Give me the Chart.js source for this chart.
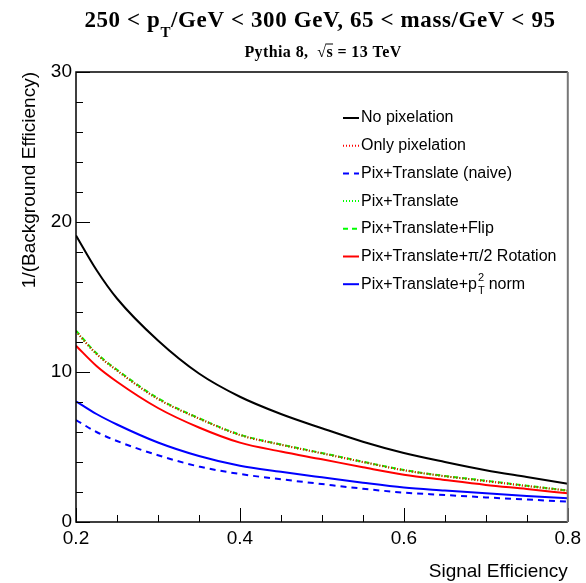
<!DOCTYPE html>
<html>
<head>
<meta charset="utf-8">
<script src="https://cdn.jsdelivr.net/npm/chart.js@4"></script>
<style>
  html, body { margin: 0; padding: 0; background: #fff; }
  #wrap { width: 586px; height: 583px; }
</style>
</head>
<body>
<div id="wrap"><canvas id="roc" width="586" height="583"></canvas></div>
<script>
// signal efficiency (x) and 1/(background efficiency)
const sigEff = [0.2, 0.225, 0.25, 0.3, 0.35, 0.4, 0.45, 0.5, 0.55, 0.6, 0.65, 0.7, 0.75, 0.8];
const noPix = [19.1, 16.8, 14.9, 12.1, 9.9, 8.35, 7.2, 6.25, 5.35, 4.6, 4.0, 3.45, 3.0, 2.55];
const onlyPix = [12.7, 11.2, 10.1, 8.2, 6.9, 5.8, 5.15, 4.58, 4.0, 3.45, 3.05, 2.73, 2.4, 2.09];
const pixTransNaive = [6.8, 6.0, 5.4, 4.45, 3.7, 3.2, 2.85, 2.53, 2.22, 1.96, 1.8, 1.64, 1.5, 1.36];
const pixTrans = [12.7, 11.2, 10.1, 8.2, 6.9, 5.8, 5.15, 4.58, 4.0, 3.45, 3.05, 2.73, 2.4, 2.09];
const pixTransFlip = [12.75, 11.25, 10.15, 8.25, 6.92, 5.82, 5.17, 4.6, 4.02, 3.47, 3.07, 2.75, 2.42, 2.1];
const pixTransRot = [11.75, 10.4, 9.35, 7.6, 6.3, 5.29, 4.7, 4.18, 3.65, 3.15, 2.8, 2.47, 2.2, 1.91];
const pixTransNorm = [8.05, 7.2, 6.5, 5.3, 4.4, 3.75, 3.35, 2.98, 2.62, 2.3, 2.1, 1.91, 1.74, 1.58];

const legendLabels = ["No pixelation", "Only pixelation", "Pix+Translate (naive)", "Pix+Translate",
    "Pix+Translate+Flip", "Pix+Translate+\u03c0/2 Rotation", "Pix+Translate+p"];

const sans = "'Liberation Sans', Arial, Helvetica, sans-serif";
const serif = "'Liberation Serif', 'Times New Roman', serif";

function pts(ys) {
    return ys.map((y, i) => ({x: sigEff[i], y: y}));
}

function series(label, ys, color, dash) {
    return {
        label: label,
        data: pts(ys),
        borderColor: color,
        backgroundColor: color,
        borderWidth: 2,
        borderDash: dash,
        pointRadius: 0,
        cubicInterpolationMode: 'monotone',
        fill: false,
    };
}

// ROOT style: inward ticks, full frame, custom legend and titles
const rootStyle = {
    id: 'rootStyle',
    afterDatasetsDraw(chart) {
        const ctx = chart.ctx;
        const a = chart.chartArea;
        const xs = chart.scales.x, ys = chart.scales.y;
        ctx.save();
        ctx.strokeStyle = '#000';
        ctx.lineWidth = 1;
        ctx.beginPath();
        xs.ticks.forEach(t => {
            const px = Math.round(xs.getPixelForValue(t.value)) + 0.5;
            const len = t.label !== '' ? 14 : 7;
            ctx.moveTo(px, a.bottom);
            ctx.lineTo(px, a.bottom - len);
        });
        ys.ticks.forEach(t => {
            const py = Math.round(ys.getPixelForValue(t.value)) + 0.5;
            const len = t.label !== '' ? 14 : 7;
            ctx.moveTo(a.left, py);
            ctx.lineTo(a.left + len, py);
        });
        ctx.stroke();
        ctx.lineWidth = 1.5;
        ctx.beginPath();
        ctx.moveTo(a.right, a.top);
        ctx.lineTo(a.left, a.top);
        ctx.lineTo(a.left, a.bottom);
        ctx.lineTo(a.right, a.bottom);
        ctx.stroke();
        ctx.strokeStyle = '#777';
        ctx.lineWidth = 2;
        ctx.beginPath();
        ctx.moveTo(a.right, a.top);
        ctx.lineTo(a.right, a.bottom);
        ctx.stroke();

        // legend
        const sets = chart.data.datasets;
        ctx.textBaseline = 'middle';
        ctx.textAlign = 'left';
        sets.forEach((ds, i) => {
            const y = 118 + i * 27.7;
            ctx.strokeStyle = ds.borderColor;
            ctx.lineWidth = 2;
            ctx.setLineDash(ds.borderDash || []);
            ctx.beginPath();
            ctx.moveTo(343, y);
            ctx.lineTo(359, y);
            ctx.stroke();
            ctx.setLineDash([]);
            ctx.fillStyle = '#000';
            ctx.font = '16px ' + sans;
            ctx.fillText(ds.label, 361, y);
            if (i === sets.length - 1) {
                let x = 361 + ctx.measureText(ds.label).width + 1;
                ctx.font = '11px ' + sans;
                ctx.fillText('2', x, y - 6);
                ctx.fillText('T', x, y + 7);
                x += ctx.measureText('T').width + 4;
                ctx.font = '16px ' + sans;
                ctx.fillText('norm', x, y);
            }
        });

        // titles
        ctx.fillStyle = '#000';
        ctx.strokeStyle = '#000';
        ctx.textBaseline = 'alphabetic';
        ctx.letterSpacing = '0.6px';
        const big = 'bold 23px ' + serif, sub = 'bold 15px ' + serif;
        const p1 = '250 < p', p2 = 'T', p3 = '/GeV < 300 GeV, 65 < mass/GeV < 95';
        ctx.font = big; const w1 = ctx.measureText(p1).width, w3 = ctx.measureText(p3).width;
        ctx.font = sub; const w2 = ctx.measureText(p2).width;
        let x = 320 - (w1 + w2 + w3) / 2;
        ctx.font = big; ctx.fillText(p1, x, 27); x += w1;
        ctx.font = sub; ctx.fillText(p2, x, 37); x += w2;
        ctx.font = big; ctx.fillText(p3, x, 27);

        const s1 = 'Pythia 8,  ', s2 = '\u221a', s3 = 's', s4 = ' = 13 TeV';
        ctx.letterSpacing = '0.4px';
        ctx.font = 'bold 16px ' + serif;
        const ws = [s1, s2, s3, s4].map(s => ctx.measureText(s).width);
        x = 323 - ws.reduce((p, c) => p + c, 0) / 2;
        const by = 57;
        ctx.fillText(s1, x, by); x += ws[0];
        ctx.fillText(s2, x, by); x += ws[1];
        ctx.fillText(s3, x, by);
        ctx.lineWidth = 1;
        ctx.beginPath();
        ctx.moveTo(x - 1, by - 13);
        ctx.lineTo(x + ws[2], by - 13);
        ctx.stroke();
        x += ws[2];
        ctx.fillText(s4, x, by);
        ctx.restore();
    }
};

new Chart("roc", {
    type: "line",
    data: {
        datasets: [
            series(legendLabels[0], noPix, "#000000", []),
            series(legendLabels[1], onlyPix, "#ff0000", [1, 2]),
            series(legendLabels[2], pixTransNaive, "#0000ff", [6, 5]),
            series(legendLabels[3], pixTrans, "#00ff00", [1, 2]),
            series(legendLabels[4], pixTransFlip, "#00ff00", [5, 4]),
            series(legendLabels[5], pixTransRot, "#ff0000", []),
            series(legendLabels[6], pixTransNorm, "#0000ff", []),
        ]
    },
    options: {
        responsive: false,
        animation: false,
        layout: {padding: {top: 72, right: 16, left: 0, bottom: 0}},
        plugins: {legend: {display: false}, tooltip: {enabled: false}},
        scales: {
            x: {
                type: 'linear',
                min: 0.2,
                max: 0.8,
                grid: {display: false, drawTicks: false},
                border: {display: false},
                afterFit: s => { s.height = 61; },
                ticks: {
                    stepSize: 0.05,
                    autoSkip: false,
                    maxRotation: 0,
                    padding: 5,
                    color: '#000',
                    font: {family: sans, size: 19},
                    callback: v => Math.abs(v * 5 - Math.round(v * 5)) < 1e-6 ? v.toFixed(1) : '',
                },
                title: {
                    display: true,
                    text: 'Signal Efficiency',
                    align: 'end',
                    color: '#000',
                    font: {family: sans, size: 19},
                    padding: {top: 0, bottom: 0},
                },
            },
            y: {
                min: 0,
                max: 30,
                grid: {display: false, drawTicks: false},
                border: {display: false},
                afterFit: s => { s.width = 76; },
                ticks: {
                    stepSize: 2,
                    autoSkip: false,
                    padding: 4,
                    color: '#000',
                    font: {family: sans, size: 19},
                    callback: v => v % 10 === 0 ? String(v) : '',
                },
                title: {
                    display: true,
                    text: '1/(Background Efficiency)',
                    align: 'end',
                    color: '#000',
                    font: {family: sans, size: 19},
                    padding: {top: 18, bottom: 0},
                },
            }
        }
    },
    plugins: [rootStyle]
});
</script>
</body>
</html>
